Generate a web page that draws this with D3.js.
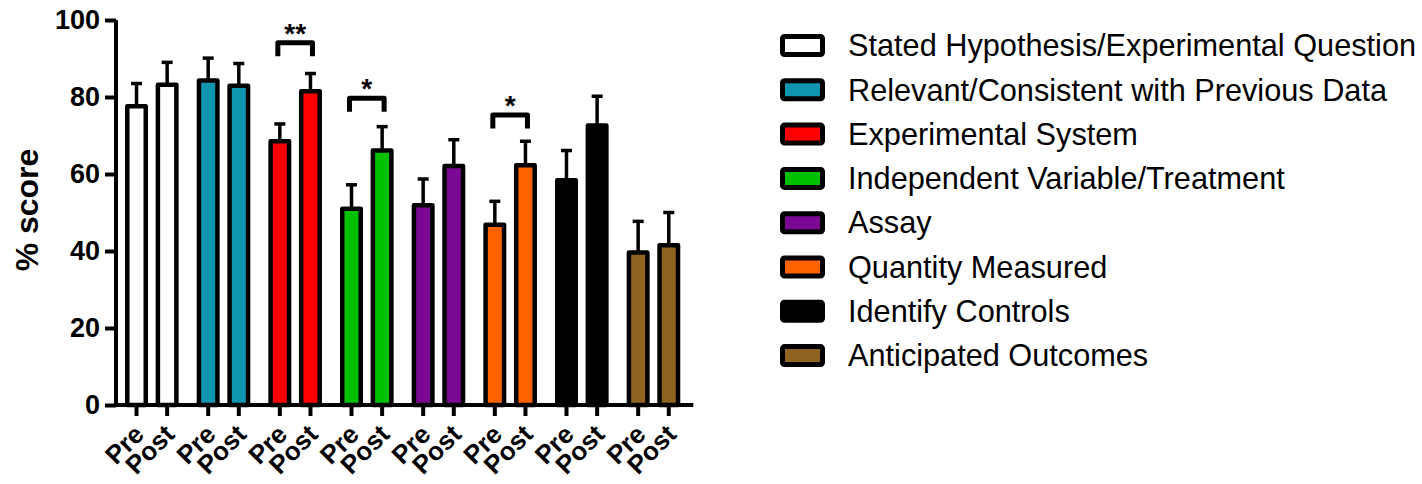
<!DOCTYPE html>
<html>
<head>
<meta charset="utf-8">
<script src="https://cdn.jsdelivr.net/npm/d3@7"></script>
<style>
  body { margin: 0; background: #fff; }
  svg { display: block; font-family: "Liberation Sans", Arial, sans-serif; }
</style>
</head>
<body>
<div id="chart"></div>
<script>
// Pre / post scores per rubric category

var categories = [
  "Stated Hypothesis/Experimental Question",
  "Relevant/Consistent with Previous Data",
  "Experimental System",
  "Independent Variable/Treatment",
  "Assay",
  "Quantity Measured",
  "Identify Controls",
  "Anticipated Outcomes"
];
var phases = ["Pre", "Post"];
var preValues = [77.6, 84.3, 68.5, 51.0, 51.9, 46.8, 58.4, 39.6];
var postValues = [83.2, 82.9, 81.5, 66.1, 62.1, 62.3, 72.6, 41.5];
var preErrors = [5.9, 5.8, 4.5, 6.2, 6.8, 6.1, 7.7, 8.1];
var postErrors = [5.8, 5.8, 4.6, 6.2, 6.8, 6.2, 7.6, 8.5];
var colors = ["#ffffff", "#1196b2", "#ff0000", "#00c000", "#7b0893", "#ff6300", "#000000", "#8f6420"];
var yTicks = [0, 20, 40, 60, 80, 100];

// significance brackets: category index, label, height of bracket (in % score)
var sigIndex = [2, 3, 5];
var sigLabels = ["**", "*", "*"];
var sigHeights = [94.1, 79.7, 75.3];

var width = 1422;
var height = 484;

var svg = d3
  .select("#chart")
  .append("svg")
  .attr("width", width)
  .attr("height", height);

// scales
var x0 = d3.scaleBand().domain(categories).range([116, 689.3]).padding(0);
var x1 = d3.scalePoint().domain(phases).range([0, x0.bandwidth()]).padding(0.67);
var y = d3.scaleLinear().domain([0, 100]).range([405, 20]);

// flatten into one row per bar
var rows = [];
categories.forEach(function(c, i) {
  rows.push({ cat: c, phase: "Pre", value: preValues[i], err: preErrors[i], color: colors[i] });
  rows.push({ cat: c, phase: "Post", value: postValues[i], err: postErrors[i], color: colors[i] });
});
function cx(d) {
  return x0(d.cat) + x1(d.phase);
}

var barW = 18.5;

// error bars (upper only), drawn under the bars
var errG = svg.append("g").attr("stroke", "#000").attr("stroke-width", 3.5);
errG.selectAll("line.stem")
  .data(rows)
  .enter()
  .append("line")
  .attr("x1", cx)
  .attr("x2", cx)
  .attr("y1", function(d) { return y(d.value); })
  .attr("y2", function(d) { return y(d.value + d.err); });
errG.selectAll("line.cap")
  .data(rows)
  .enter()
  .append("line")
  .attr("x1", function(d) { return cx(d) - 5.5; })
  .attr("x2", function(d) { return cx(d) + 5.5; })
  .attr("y1", function(d) { return y(d.value + d.err); })
  .attr("y2", function(d) { return y(d.value + d.err); });

// bars
svg.append("g")
  .selectAll("rect")
  .data(rows)
  .enter()
  .append("rect")
  .attr("x", function(d) { return cx(d) - barW / 2; })
  .attr("width", barW)
  .attr("y", function(d) { return y(d.value); })
  .attr("height", function(d) { return y(0) - y(d.value); })
  .attr("fill", function(d) { return d.color; })
  .attr("stroke", "#000")
  .attr("stroke-width", 4.5)
  .attr("stroke-linejoin", "round");

// y axis
var yAxis = d3.axisLeft(y).tickValues(yTicks).tickSize(11).tickPadding(5);
var yG = svg.append("g").attr("transform", "translate(116,0)").call(yAxis);
yG.selectAll("line, path").attr("stroke", "#000").attr("stroke-width", 4);
yG.select(".domain").attr("d", "M0," + y(100) + "V" + (y(0) + 2));
yG.selectAll("text")
  .attr("font-size", "27px")
  .attr("font-weight", "bold")
  .attr("font-family", "'Liberation Sans', Arial, sans-serif")
  .attr("fill", "#000");

// x axis: one tick per bar
var xG = svg.append("g").attr("transform", "translate(0," + y(0) + ")");
xG.append("path")
  .attr("d", "M" + (x0.range()[0] - 2) + ",0H" + (x0.range()[1] + 4))
  .attr("stroke", "#000")
  .attr("stroke-width", 4);
xG.selectAll("line")
  .data(rows)
  .enter()
  .append("line")
  .attr("x1", cx)
  .attr("x2", cx)
  .attr("y1", 0)
  .attr("y2", 11)
  .attr("stroke", "#000")
  .attr("stroke-width", 4);
xG.selectAll("text")
  .data(rows)
  .enter()
  .append("text")
  .attr("transform", function(d) {
    return "translate(" + (cx(d) + 9) + ",31)rotate(-45)";
  })
  .attr("text-anchor", "end")
  .attr("font-size", "26px")
  .attr("font-weight", "bold")
  .text(function(d) { return d.phase; });

// y axis title
svg.append("text")
  .attr("transform", "translate(38,210)rotate(-90)")
  .attr("text-anchor", "middle")
  .attr("font-size", "32px")
  .attr("font-weight", "bold")
  .text("% score");

// significance brackets
sigIndex.forEach(function(ci, k) {
  var c = categories[ci];
  var xa = x0(c) + x1("Pre") - 2;
  var xb = x0(c) + x1("Post") + 2;
  var top = y(sigHeights[k]);
  var bot = y(sigHeights[k] - 3.5);
  svg.append("path")
    .attr("d", "M" + xa + "," + bot + "V" + top + "H" + xb + "V" + bot)
    .attr("fill", "none")
    .attr("stroke", "#000")
    .attr("stroke-width", 5)
    .attr("stroke-linejoin", "round");
  svg.append("text")
    .attr("x", (xa + xb) / 2)
    .attr("y", top)
    .attr("text-anchor", "middle")
    .attr("font-size", "28px")
    .attr("font-weight", "bold")
    .text(sigLabels[k]);
});

// legend
var legend = svg.append("g").attr("transform", "translate(782.5,0)");
var rowsLeg = legend.selectAll("g")
  .data(categories)
  .enter()
  .append("g")
  .attr("transform", function(d, i) { return "translate(0," + (45.5 + i * 44.3) + ")"; });
rowsLeg.append("rect")
  .attr("x", 0)
  .attr("y", -9)
  .attr("width", 40)
  .attr("height", 18)
  .attr("rx", 2)
  .attr("fill", function(d, i) { return colors[i]; })
  .attr("stroke", "#000")
  .attr("stroke-width", 5);
rowsLeg.append("text")
  .attr("x", 65.5)
  .attr("dy", "0.35em")
  .attr("font-size", "30.7px")
  .text(function(d) { return d; });
</script>
</body>
</html>
